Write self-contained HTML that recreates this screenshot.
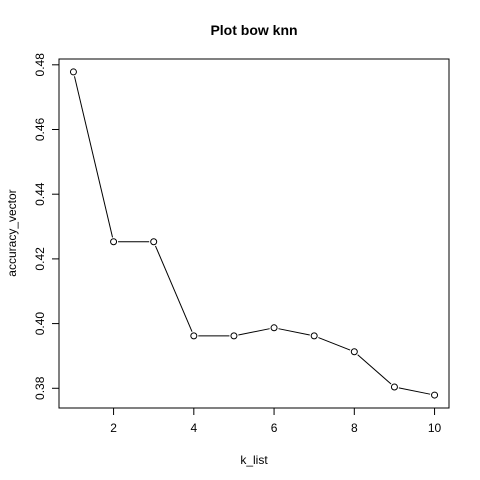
<!DOCTYPE html>
<html><head><meta charset="utf-8"><style>
html,body{margin:0;padding:0;background:#fff;}
svg{display:block;font-family:"Liberation Sans",Arial,sans-serif;}
</style></head><body>
<svg id="chart" width="480" height="480">
<text x="254" y="35" text-anchor="middle" font-size="14" font-weight="bold">Plot bow knn</text>
<text x="254" y="464" text-anchor="middle" font-size="12">k_list</text>
<text transform="translate(16,233) rotate(-90)" text-anchor="middle" font-size="12">accuracy_vector</text>
<rect x="59" y="59" width="390" height="349" fill="none" stroke="#000" stroke-width="1"/>
<g id="xaxis"></g>
<g id="yaxis"></g>
<g id="series"></g>
</svg>
<script>
const kList = [1,2,3,4,5,6,7,8,9,10];
const accuracy = [0.4778,0.4253,0.4253,0.3962,0.3962,0.3987,0.3962,0.3913,0.3804,0.3779];
const xTicks = [2,4,6,8,10];
const yTicks = [0.38,0.40,0.42,0.44,0.46,0.48];
const yTickLabels = ["0.38","0.40","0.42","0.44","0.46","0.48"];

const NS="http://www.w3.org/2000/svg";
const L=59,R=449,T=59,B=408;
const xmin=Math.min(...kList),xmax=Math.max(...kList),xr=xmax-xmin;
const ymin=Math.min(...accuracy),ymax=Math.max(...accuracy),yr=ymax-ymin;
const x0=xmin-0.04*xr,x1=xmax+0.04*xr,y0=ymin-0.04*yr,y1=ymax+0.04*yr;
function sx(v){return L+(v-x0)/(x1-x0)*(R-L);}
function sy(v){return B-(v-y0)/(y1-y0)*(B-T);}
function mk(tag,attrs,parent){const e=document.createElementNS(NS,tag);for(const k in attrs)e.setAttribute(k,attrs[k]);parent.appendChild(e);return e;}

const xa=document.getElementById('xaxis');
mk('line',{x1:sx(xTicks[0]),x2:sx(xTicks[xTicks.length-1]),y1:B,y2:B,stroke:'#000'},xa);
xTicks.forEach(t=>{
  const l=mk('line',{x1:sx(t),x2:sx(t),y1:B,y2:B+7,stroke:'#000'},xa);
  
  
  const tx=mk('text',{x:sx(t),y:B+24,'text-anchor':'middle','font-size':12},xa);
  tx.textContent=t;
  
  
});
const ya=document.getElementById('yaxis');
mk('line',{x1:L,x2:L,y1:sy(yTicks[0]),y2:sy(yTicks[yTicks.length-1]),stroke:'#000'},ya);
yTicks.forEach((t,i)=>{
  const l=mk('line',{x1:L-7,x2:L,y1:sy(t),y2:sy(t),stroke:'#000'},ya);
  
  
  const tx=mk('text',{transform:`translate(${L-15},${sy(t)}) rotate(-90)`,'text-anchor':'middle','font-size':12},ya);
  tx.textContent=yTickLabels[i];
  
  
});
const s=document.getElementById('series');
for(let i=0;i<kList.length-1;i++){
  const ax=sx(kList[i]),ay=sy(accuracy[i]),bx=sx(kList[i+1]),by=sy(accuracy[i+1]);
  const d=Math.hypot(bx-ax,by-ay),g=4.5/d;
  const seg=mk('line',{x1:ax+(bx-ax)*g,y1:ay+(by-ay)*g,x2:bx-(bx-ax)*g,y2:by-(by-ay)*g,stroke:'#000'},s);
  
  
}
kList.forEach((k,i)=>{
  const c=mk('circle',{cx:sx(k),cy:sy(accuracy[i]),r:3,fill:'none',stroke:'#000'},s);
  
  
});
</script>
</body></html>
